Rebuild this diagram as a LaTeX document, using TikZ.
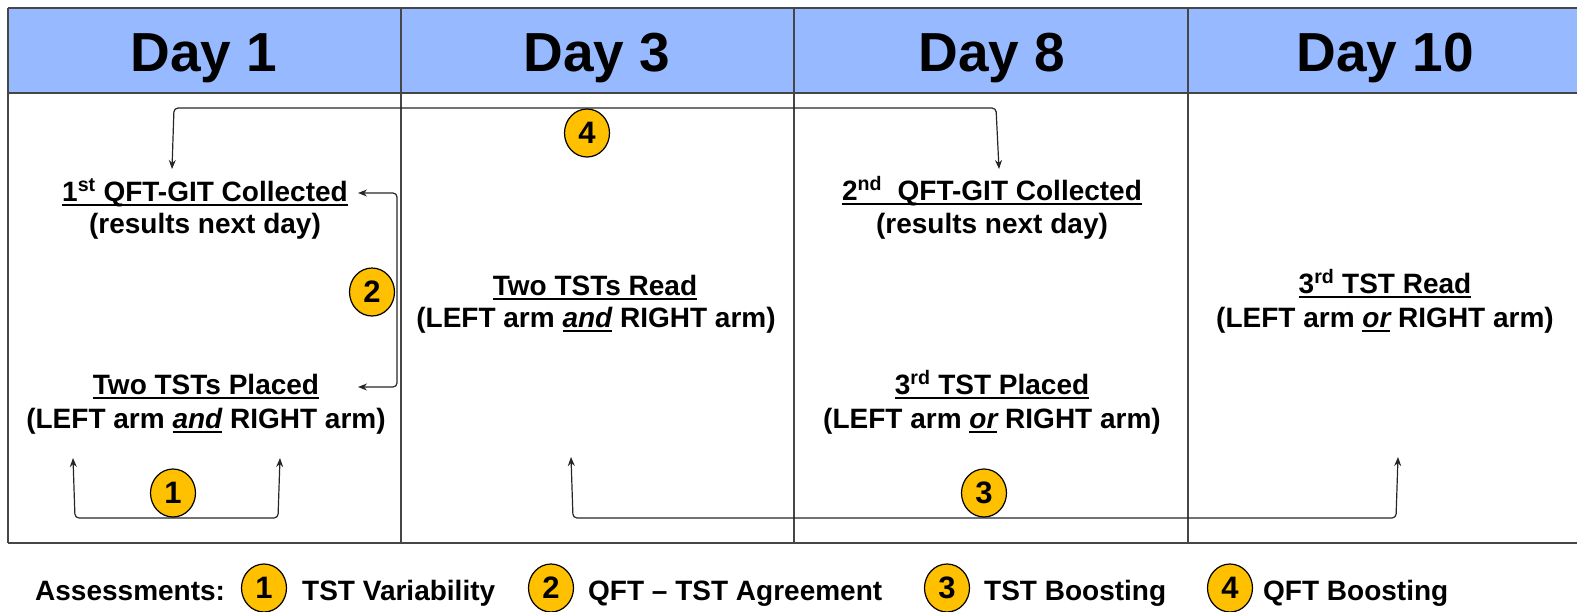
\documentclass[tikz,border=0pt]{standalone}
\usepackage{fontspec}
\setmainfont{Liberation Sans}
\usetikzlibrary{shapes.geometric,arrows.meta}
\definecolor{hdr}{RGB}{150,185,255}
\definecolor{gold}{RGB}{255,192,0}
\definecolor{gridc}{RGB}{70,70,70}
\newcommand\myul[1]{\setbox0\hbox{#1}\rlap{\rule[-4.5pt]{\wd0}{1.8pt}}\box0\relax}
\begin{document}
\begin{tikzpicture}[x=1pt,y=-1pt,
 day/.style={font=\fontsize{55}{60}\selectfont\bfseries, anchor=base, inner sep=0pt},
 txt/.style={font=\fontsize{28}{33}\selectfont\bfseries, anchor=base, inner sep=0pt},
 leg/.style={font=\fontsize{28}{33}\selectfont\bfseries, anchor=base west, inner sep=0pt},
 num/.style={ellipse, draw=black, line width=1.2pt, fill=gold, minimum width=45pt, minimum height=48pt, inner sep=0pt, font=\fontsize{31}{31}\selectfont\bfseries},
 grid/.style={draw=gridc, line width=1.6pt},
 conn/.style={draw=black!85, line width=1.2pt, {Stealth[length=9pt,width=7pt]}-{Stealth[length=9pt,width=7pt]}, rounded corners=4pt},
]
\useasboundingbox (0,0) rectangle (1577,611);
\clip (0,0) rectangle (1577,611);
% table
\fill[hdr] (8,8) rectangle (1600,93);
\draw[grid] (8,8) -- (1600,8);
\draw[grid] (8,93) -- (1600,93);
\draw[grid] (8,543) -- (1600,543);
\draw[grid] (8,8) -- (8,543);
\draw[grid] (401,8) -- (401,543);
\draw[grid] (794,8) -- (794,543);
\draw[grid] (1188,8) -- (1188,543);
% headers
\node[day] (d1) at (204,71) {Day 1};
\node[day] (d3) at (597,71) {Day 3};
\node[day] (d8) at (992,71) {Day 8};
\node[day] (d10) at (1385,71) {Day 10};
% column 1
\node[txt] (q1a) at (205,201) {\myul{1\textsuperscript{st} QFT-GIT Collected}};
\node[txt] (q1b) at (205,233) {(results next day)};
\node[txt] (p1a) at (206,394) {\myul{Two TSTs Placed}};
\node[txt] (p1b) at (206,428) {(LEFT arm \myul{\itshape and} RIGHT arm)};
% column 3
\node[txt] (r3a) at (595,295) {\myul{Two TSTs Read}};
\node[txt] (r3b) at (596,327) {(LEFT arm \myul{\itshape and} RIGHT arm)};
% column 8
\node[txt] (q8a) at (992,200) {\myul{2\textsuperscript{nd}\ \ QFT-GIT Collected}};
\node[txt] (q8b) at (992,233) {(results next day)};
\node[txt] (p8a) at (992,394) {\myul{3\textsuperscript{rd} TST Placed}};
\node[txt] (p8b) at (992,428) {(LEFT arm \myul{\itshape or} RIGHT arm)};
% column 10
\node[txt] (r10a) at (1385,293) {\myul{3\textsuperscript{rd} TST Read}};
\node[txt] (r10b) at (1385,327) {(LEFT arm \myul{\itshape or} RIGHT arm)};
% connector coordinates
\coordinate (t1l) at (73,458); \coordinate (b1l) at (75,518);
\coordinate (b1r) at (278,518); \coordinate (t1r) at (280,458);
\coordinate (t2a) at (358,193); \coordinate (c2a) at (397,193);
\coordinate (c2b) at (397,387); \coordinate (t2b) at (358,387);
\coordinate (t4a) at (172,169); \coordinate (c4a) at (174,108);
\coordinate (c4b) at (996,108); \coordinate (t4b) at (999,169);
\coordinate (t3a) at (571,457); \coordinate (c3a) at (573,518);
\coordinate (c3b) at (1396,518); \coordinate (t3b) at (1398,457);
\draw[conn] (t1l) -- (b1l) -- (b1r) -- (t1r);
\draw[conn] (t2a) -- (c2a) -- (c2b) -- (t2b);
\draw[conn] (t4a) -- (c4a) -- (c4b) -- (t4b);
\draw[conn] (t3a) -- (c3a) -- (c3b) -- (t3b);
% numbered circles
\node[num] (n1) at (173,493) {1};
\node[num] (n2) at (372,292) {2};
\node[num] (n3) at (984,493) {3};
\node[num] (n4) at (587,133) {4};
% legend
\node[leg] (la) at (35,600) {Assessments:};
\node[num] (l1) at (264,588) {1};
\node[leg] (l1t) at (302,600) {TST Variability};
\node[num] (l2) at (551,588) {2};
\node[leg] (l2t) at (588,600) {QFT – TST Agreement};
\node[num] (l3) at (947,588) {3};
\node[leg] (l3t) at (984,600) {TST Boosting};
\node[num] (l4) at (1230,588) {4};
\node[leg] (l4t) at (1263,600) {QFT Boosting};
\end{tikzpicture}
\end{document}
